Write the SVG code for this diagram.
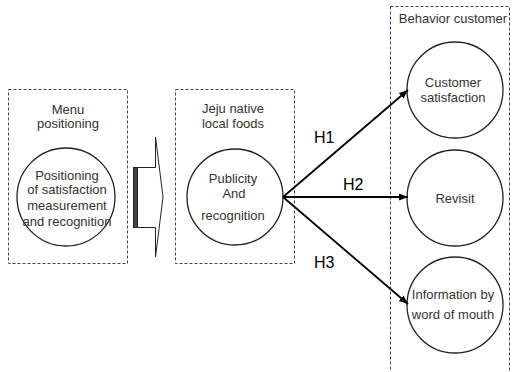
<svg xmlns="http://www.w3.org/2000/svg" width="512" height="372" viewBox="0 0 512 372">
<style>
.box{fill:none;stroke:#444;stroke-width:1;stroke-dasharray:3,2}
.c{fill:#fff;stroke:#222;stroke-width:1.3}
.t{font-family:"Liberation Sans",Arial,sans-serif;font-size:13px;fill:#333;text-anchor:middle}
.h{font-family:"Liberation Sans",Arial,sans-serif;font-size:16px;fill:#000}
.e{fill:none;stroke:#000;stroke-width:1.8}
</style>
<defs>
<marker id="ah" viewBox="0 0 10 10" refX="10" refY="5" markerWidth="9" markerHeight="9" markerUnits="userSpaceOnUse" orient="auto">
<path d="M0,1 L10,5 L0,9 Z" fill="#000"/>
</marker>
</defs>
<rect width="512" height="372" fill="#fff"/>
<g id="menu-positioning">
<rect class="box" x="8.5" y="89.5" width="119" height="174"/>
<text class="t" x="68" y="114">Menu</text>
<text class="t" x="68" y="128">positioning</text>
<circle class="c" cx="66" cy="197" r="49"/>
<text class="t" x="67" y="180">Positioning</text>
<text class="t" x="67" y="194">of satisfaction</text>
<text class="t" x="67" y="210">measurement</text>
<text class="t" x="67" y="226">and recognition</text>
</g>
<g id="block-arrow">
<path d="M133.5,167.5 H155.5 V137 L163,197 L155.5,257 V227.5 H133.5 Z" fill="#fff" stroke="#222" stroke-width="1"/>
<rect x="133.5" y="167.5" width="4" height="60" fill="#444" stroke="#222" stroke-width="1"/>
</g>
<g id="jeju-foods">
<rect class="box" x="175.5" y="89.5" width="119" height="174"/>
<text class="t" x="233" y="113">Jeju native</text>
<text class="t" x="233" y="128">local foods</text>
<circle class="c" cx="235" cy="197" r="48"/>
<text class="t" x="233" y="183">Publicity</text>
<text class="t" x="234" y="198">And</text>
<text class="t" x="233" y="220">recognition</text>
</g>
<g id="behavior-customer">
<rect class="box" x="390.5" y="6.5" width="119" height="380"/>
<text class="t" x="453" y="23">Behavior customer</text>
<g id="customer-satisfaction">
<circle class="c" cx="455" cy="90" r="48"/>
<text class="t" x="453" y="87">Customer</text>
<text class="t" x="453" y="102">satisfaction</text>
</g>
<g id="revisit">
<circle class="c" cx="455" cy="198" r="48"/>
<text class="t" x="455" y="203">Revisit</text>
</g>
<g id="word-of-mouth">
<circle class="c" cx="455" cy="305" r="48"/>
<text class="t" x="453" y="299">Information by</text>
<text class="t" x="453" y="319">word of mouth</text>
</g>
</g>
<g id="connectors">
<line class="e" x1="283" y1="197" x2="408" y2="90" marker-end="url(#ah)"/>
<line class="e" x1="283" y1="197" x2="408" y2="197" marker-end="url(#ah)"/>
<line class="e" x1="283" y1="197" x2="408" y2="304" marker-end="url(#ah)"/>
<text class="h" x="314" y="143">H1</text>
<text class="h" x="343" y="190">H2</text>
<text class="h" x="314" y="268">H3</text>
</g>
</svg>
